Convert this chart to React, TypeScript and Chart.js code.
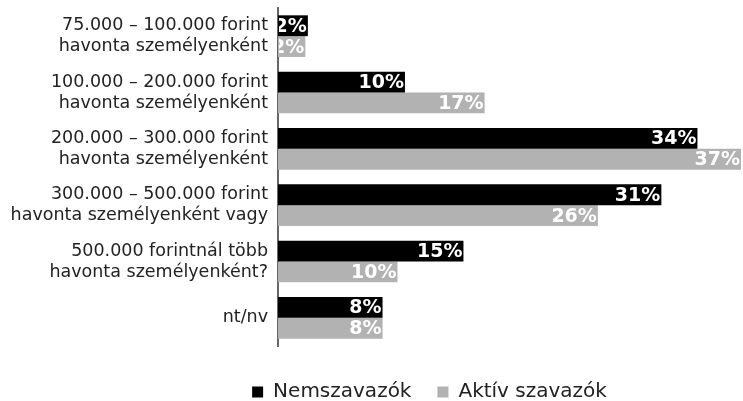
import React, { useEffect, useRef } from "react";
import { Chart, registerables } from "chart.js";

Chart.register(...registerables);

const categories: string[][] = [
  ["75.000 – 100.000 forint", "havonta személyenként"],
  ["100.000 – 200.000 forint", "havonta személyenként"],
  ["200.000 – 300.000 forint", "havonta személyenként"],
  ["300.000 – 500.000 forint", "havonta személyenként vagy"],
  ["500.000 forintnál több", "havonta személyenként?"],
  ["nt/nv"],
];
// values; labels show them rounded
const nemszavazok: number[] = [2.4, 10.2, 33.7, 30.8, 14.9, 8.4];
const aktivSzavazok: number[] = [2.2, 16.6, 37.2, 25.7, 9.6, 8.4];
const seriesNames: string[] = ["Nemszavazók", "Aktív szavazók"];

const FONT = "'DejaVu Sans', sans-serif";

const valueLabels = {
  id: "valueLabels",
  afterDatasetsDraw(chart: any) {
    const ctx = chart.ctx;
    const area = chart.chartArea;
    ctx.save();
    ctx.beginPath();
    ctx.rect(area.left + 1, 0, chart.width, chart.height);
    ctx.clip();
    ctx.font = `bold 19px ${FONT}`;
    ctx.fillStyle = "#ffffff";
    ctx.textAlign = "right";
    ctx.textBaseline = "middle";
    chart.data.datasets.forEach((ds: any, di: number) => {
      const meta = chart.getDatasetMeta(di);
      meta.data.forEach((bar: any, i: number) => {
        ctx.fillText(`${Math.round(ds.data[i])}%`, bar.x - 1, bar.y + 1);
      });
    });
    ctx.restore();
  },
};

const shiftLegend = {
  id: "shiftLegend",
  afterLayout(chart: any) {
    const lg = chart.legend;
    if (lg) {
      lg.left += 59;
      lg.right += 59;
      lg.top += 10;
      lg.bottom += 10;
    }
  },
};

export default function App() {
  const ref = useRef<HTMLCanvasElement | null>(null);
  useEffect(() => {
    if (!ref.current) return;
    const chart = new Chart(ref.current, {
      type: "bar",
      data: {
        labels: categories,
        datasets: [
          {
            label: seriesNames[0],
            data: nemszavazok,
            backgroundColor: "#000000",
            barPercentage: 1,
            categoryPercentage: 0.74,
          },
          {
            label: seriesNames[1],
            data: aktivSzavazok,
            backgroundColor: "#b2b2b3",
            barPercentage: 1,
            categoryPercentage: 0.74,
          },
        ],
      },
      options: {
        indexAxis: "y",
        animation: false,
        responsive: true,
        maintainAspectRatio: false,
        layout: { padding: { top: 8, right: 2, left: 0, bottom: -1 } },
        scales: {
          x: {
            display: false,
            min: 0,
            max: 37.2,
          },
          y: {
            grid: { display: false, drawTicks: false },
            border: { display: true, color: "#666666", width: 2 },
            ticks: {
              color: "#222222",
              padding: 10,
              font: { family: FONT, size: 17.5, lineHeight: 1.2 },
            },
            afterFit(scale: any) {
              scale.width = 278;
              scale.paddingTop = 0;
              scale.paddingBottom = 0;
            },
          },
        },
        plugins: {
          legend: {
            position: "bottom",
            labels: {
              color: "#222222",
              boxWidth: 11,
              boxHeight: 11,
              padding: 26,
              font: { family: FONT, size: 20 },
            },
          },
          tooltip: { enabled: false },
        },
      },
      plugins: [valueLabels, shiftLegend],
    });
    return () => chart.destroy();
  }, []);
  return (
    <div style={{ position: "fixed", left: 0, top: 0, width: 743, height: 401, background: "#fff" }}>
      <canvas ref={ref} />
    </div>
  );
}
